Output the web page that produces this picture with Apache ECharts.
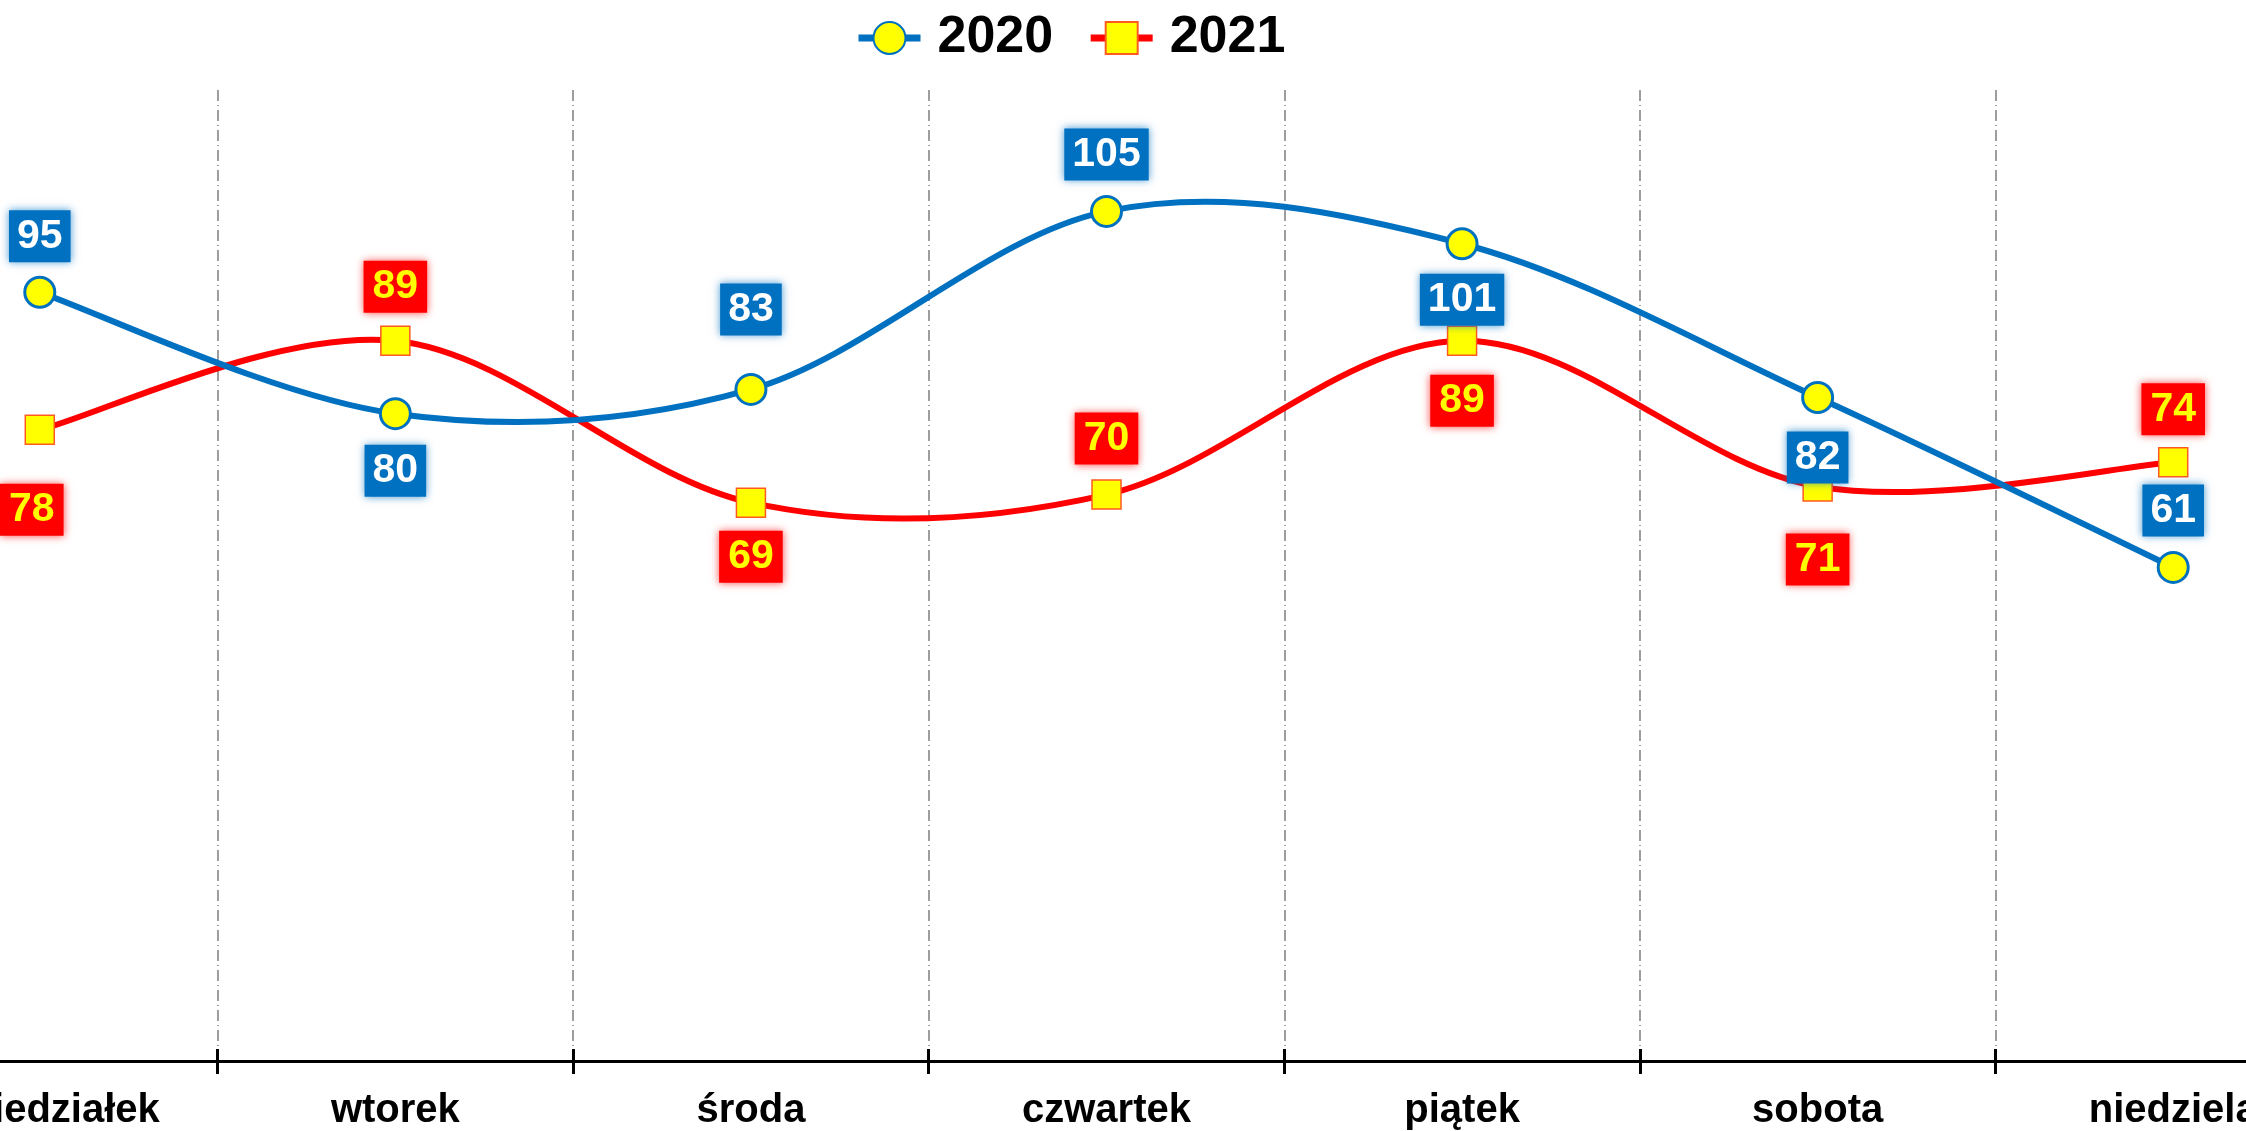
<!DOCTYPE html>
<html>
<head>
<meta charset="utf-8">
<script src="https://cdn.jsdelivr.net/npm/echarts@6/dist/echarts.min.js"></script>
<style>
html,body{margin:0;padding:0;background:#fff;overflow:hidden;width:2246px;height:1131px}
#wrap{position:relative;width:2246px;height:1131px;overflow:hidden}
#c{position:absolute;left:-138px;top:0;width:2489px;height:1131px}
</style>
</head>
<body>
<div id="wrap"><div id="c"></div></div>
<script>
const categories = ['poniedziałek', 'wtorek', 'środa', 'czwartek', 'piątek', 'sobota', 'niedziela'];
const series2020 = [95, 80, 83, 105, 101, 82, 61];
const series2021 = [78, 89, 69, 70, 89, 71, 74];
const seriesNames = ['2020', '2021'];

// label placement (offset from point, px) – styling only
const labelDy2020 = [-56, 57, -80, -57, 56, 60, -57];
const labelDy2021 = [80, -54, 54, -56, 60, 73, -53];
const labelDx2021 = [-8, 0, 0, 0, 0, 0, 0];

const FONT = '"Liberation Sans", Arial, sans-serif';
const BLUE = '#0070C0', RED = '#FF0000', YELLOW = '#FFFF00';
const GRID_TOP = 90, GRID_BOTTOM = 70, H = 1131;

function build(values, dy, dx) {
  return values.map((v, i) => ({ value: v, label: { offset: [dx ? dx[i] : 0, dy[i]] } }));
}

// Smooth (Catmull-Rom style) curve through the data points, positioned by the library's scales
function curveRenderer(values, color) {
  return function (params, api) {
    if (params.dataIndex !== 0) return null;
    const pts = values.map((v, i) => api.coord([i, v]));
    const n = pts.length;
    let d = 'M' + pts[0][0] + ' ' + pts[0][1];
    for (let i = 0; i < n - 1; i++) {
      const p0 = pts[Math.max(0, i - 1)], p1 = pts[i], p2 = pts[i + 1], p3 = pts[Math.min(n - 1, i + 2)];
      const c1x = p1[0] + (p2[0] - p0[0]) / 6, c1y = p1[1] + (p2[1] - p0[1]) / 6;
      const c2x = p2[0] - (p3[0] - p1[0]) / 6, c2y = p2[1] - (p3[1] - p1[1]) / 6;
      d += ' C' + c1x + ' ' + c1y + ' ' + c2x + ' ' + c2y + ' ' + p2[0] + ' ' + p2[1];
    }
    return {
      type: 'path',
      shape: { pathData: d },
      style: { stroke: color, lineWidth: 6, fill: null, lineJoin: 'round', lineCap: 'round' }
    };
  };
}

const chart = echarts.init(document.getElementById('c'), null, { renderer: 'canvas' });
const option = {
  animation: false,
  backgroundColor: '#ffffff',
  legend: {
    top: 7,
    left: 850 + 138,
    itemWidth: 62,
    itemHeight: 40,
    itemGap: 34,
    textStyle: { fontFamily: FONT, fontWeight: 'bold', fontSize: 52, color: '#000', padding: [0, 0, 0, 12] },
    data: [
      { name: seriesNames[0], lineStyle: { color: BLUE, width: 7, opacity: 1 } },
      { name: seriesNames[1], lineStyle: { color: RED, width: 7, opacity: 1 } }
    ]
  },
  grid: [
    { left: 0, right: 0, top: GRID_TOP, bottom: GRID_BOTTOM, containLabel: false },
    { left: 0, right: 0, top: H - GRID_BOTTOM, bottom: GRID_BOTTOM - 1, containLabel: false }
  ],
  xAxis: [{
    type: 'category',
    gridIndex: 0,
    data: categories,
    boundaryGap: true,
    position: 'bottom',
    axisLine: { show: true, lineStyle: { color: '#000', width: 3 } },
    axisTick: { show: true, length: 13, lineStyle: { color: '#000', width: 3 } },
    axisLabel: { fontFamily: FONT, fontWeight: 'bold', fontSize: 40, color: '#000', margin: 30, interval: 0 },
    splitLine: { show: true, lineStyle: { color: '#7f7f7f', width: 1.5, type: [11, 4, 1, 4] } }
  }, {
    type: 'category',
    gridIndex: 1,
    data: categories,
    position: 'top',
    boundaryGap: true,
    axisLine: { show: false },
    axisTick: { show: true, inside: false, length: 13, lineStyle: { color: '#000', width: 3 } },
    axisLabel: { show: false },
    splitLine: { show: false }
  }],
  yAxis: [{
    type: 'value', gridIndex: 0, min: 0, max: 120, interval: 20,
    show: false,
    splitLine: { show: false }
  }, {
    type: 'value', gridIndex: 1, min: 0, max: 1, show: false
  }],
  series: [{
    type: 'custom',
    renderItem: curveRenderer(series2020, BLUE),
    data: series2020.map((v, i) => [i, v]),
    encode: { x: 0, y: 1 },
    silent: true,
    z: 2
  }, {
    type: 'custom',
    renderItem: curveRenderer(series2021, RED),
    data: series2021.map((v, i) => [i, v]),
    encode: { x: 0, y: 1 },
    silent: true,
    z: 1
  }, {
    name: seriesNames[0],
    type: 'line',
    data: build(series2020, labelDy2020),
    symbol: 'circle',
    symbolSize: 30,
    lineStyle: { color: BLUE, width: 5, opacity: 0 },
    itemStyle: { color: YELLOW, borderColor: BLUE, borderWidth: 3 },
    label: {
      show: true, position: 'inside',
      fontFamily: FONT, fontWeight: 'bold', fontSize: 41, color: '#ffffff',
      backgroundColor: BLUE, padding: [6, 8, 5, 8],
      shadowBlur: 8, shadowColor: 'rgba(0,112,192,0.7)'
    },
    z: 4
  }, {
    name: seriesNames[1],
    type: 'line',
    data: build(series2021, labelDy2021, labelDx2021),
    symbol: 'rect',
    symbolSize: 29,
    lineStyle: { color: RED, width: 5, opacity: 0 },
    itemStyle: { color: YELLOW, borderColor: '#FF5A1F', borderWidth: 1.5 },
    label: {
      show: true, position: 'inside',
      fontFamily: FONT, fontWeight: 'bold', fontSize: 41, color: YELLOW,
      backgroundColor: RED, padding: [6, 9, 5, 9],
      shadowBlur: 8, shadowColor: 'rgba(255,0,0,0.7)'
    },
    z: 3
  }]
};
chart.setOption(option);
</script>
</body>
</html>
